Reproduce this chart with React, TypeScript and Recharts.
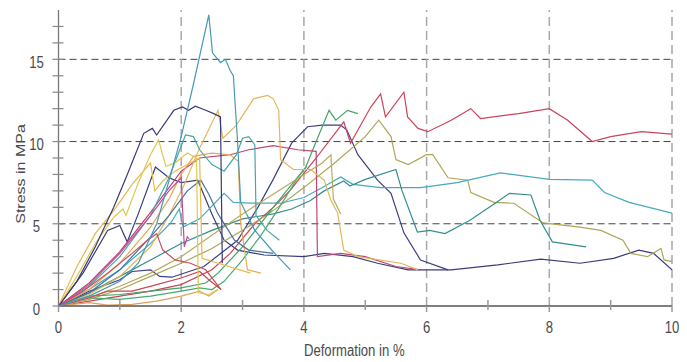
import React from 'react';
import { LineChart, Line, XAxis, YAxis, ReferenceLine } from 'recharts';

type P = [number, number];

const navyTall: P[] = [[0,0],[0.3,1.5],[0.6,3.6],[0.9,6],[1.1,7.8],[1.39,10.5],[1.53,10.8],[1.6,10.4],[1.88,11.9],[2.02,12.1],[2.12,11.9],[2.23,12.15],[2.4,11.9],[2.53,11.7],[2.64,11.5],[2.67,2.6]];
const tealTall: P[] = [[0,0],[0.5,0.6],[1,1.5],[1.3,2.6],[1.6,5],[1.8,7.6],[2,10.3],[2.2,13.5],[2.45,17.7],[2.51,15.4],[2.64,14.8],[2.72,15.0],[2.8,14.3],[2.85,14.0],[2.92,9.9],[2.97,6.3],[3.2,4.6],[3.5,3.3],[3.78,2.2]];
const goldTall: P[] = [[0,0],[0.5,0.7],[1,1.8],[1.5,3.6],[1.8,5.5],[2.04,7.3],[2.3,9.6],[2.6,11.9],[2.68,10.2],[2.9,11],[3.18,12.6],[3.41,12.8],[3.5,12.6],[3.59,11.9],[3.62,8.9],[3.83,8.3],[4.11,8.3],[4.33,7.65],[4.44,6.45],[4.55,5.65],[4.65,3.4],[4.88,3.0],[5.58,2.6],[5.86,2.2]];
const yellowA: P[] = [[0,0],[0.3,1.8],[0.6,3.8],[0.9,5.4],[1.05,5.9],[1.1,5.5],[1.3,7.5],[1.5,9.2],[1.63,10.1],[1.75,8.5],[1.9,8.7],[2.1,9.3],[2.25,9.0],[2.28,0.8],[2.45,0.7],[2.6,1.0]];
const goldB: P[] = [[0,0],[0.3,2.4],[0.6,4.4],[0.9,5.8],[1.2,7.4],[1.5,8.7],[1.57,7.0],[1.7,7.6],[1.9,8.2],[2.1,8.6],[2.3,9.0],[2.34,2.9],[2.6,2.6],[3.13,2.0]];
const navyLow: P[] = [[0,0],[0.4,2],[0.8,4.6],[1.0,4.9],[1.12,3.9],[1.3,5.6],[1.58,8.45],[1.8,7.8],[2.0,7.5],[2.27,7.65],[2.5,5.6],[2.7,4.0],[2.92,3.4],[3.35,3.1],[4,3.0],[4.33,3.2],[4.8,3.0],[5.2,2.6],[5.7,2.2],[6.4,2.2],[7.16,2.5],[7.86,2.85],[8.5,2.6],[9.05,2.9],[9.46,3.4],[9.7,3.2],[10,2.2]];
const navyPeak: P[] = [[0,0],[0.5,0.9],[1.0,1.6],[1.2,2.1],[1.5,2.2],[1.65,1.8],[1.85,1.75],[2.37,2.4],[2.92,4.0],[3.25,6.0],[3.5,7.7],[3.8,9.9],[4.06,10.9],[4.3,11],[4.6,11],[4.7,10.7],[4.88,9.2],[5.2,7.65],[5.42,6.85],[5.63,4.45],[5.9,2.8],[6.35,2.2]];
const redLong: P[] = [[0,0],[0.5,0.3],[1,0.6],[1.5,0.9],[2,1.3],[2.5,2.2],[2.8,3.2],[3.2,5],[3.5,6],[3.78,7.05],[4.2,9],[4.65,11.2],[4.76,9.9],[5.09,12.1],[5.25,12.9],[5.33,11.5],[5.63,13.0],[5.69,11.5],[5.86,10.8],[6.02,10.6],[6.4,11.3],[6.72,12.0],[6.88,11.4],[7.5,11.7],[8,12.0],[8.3,11.3],[8.7,10.0],[9.0,10.3],[9.5,10.6],[10,10.45]];
const greenLong: P[] = [[0,0],[0.5,0.6],[1,0.7],[1.5,0.9],[2,1.1],[2.4,1.4],[2.6,2.0],[3,3.6],[3.5,6],[4.03,8.45],[4.2,10],[4.41,11.9],[4.52,11.3],[4.71,11.9],[4.88,11.7]];
const oliveLong: P[] = [[0,0],[0.5,0.4],[1,1],[1.5,1.8],[2,2.6],[2.5,3.5],[3,4.6],[3.5,5.8],[4,7.2],[4.5,8.7],[5,10.3],[5.22,11.3],[5.42,10.3],[5.5,8.9],[5.7,8.6],[6.0,9.2],[6.1,9.2],[6.35,7.8],[6.67,7.65],[6.72,6.9],[7.1,6.3],[7.42,6.25],[7.9,5.05],[8.5,4.8],[8.84,4.6],[9.2,4.0],[9.33,3.2],[9.6,3.0],[9.82,3.5],[9.87,2.8],[10,2.7]];
const cyanLong: P[] = [[0,0],[0.5,1],[1,2.2],[1.5,3.8],[1.83,5.05],[1.97,5.9],[2.03,4.8],[2.3,5.3],[2.7,6.85],[2.85,6.3],[3.13,6.25],[3.62,6.25],[4.0,6.6],[4.3,7.2],[4.6,7.85],[4.8,7.4],[5.25,7.2],[5.9,7.2],[6.5,7.5],[7.2,8.1],[8.0,7.7],[8.7,7.65],[8.9,6.9],[9.3,6.3],[10,5.65]];
const tealDark: P[] = [[0,0],[0.5,0.8],[1,1.8],[1.5,2.8],[2,3.8],[2.5,4.6],[3,5.3],[3.5,5.6],[3.8,5.9],[4.1,6.4],[4.33,7.0],[4.65,7.6],[4.75,7.3],[5.0,7.7],[5.5,8.3],[5.6,7.0],[5.85,4.5],[6.05,4.6],[6.3,4.4],[6.7,5.2],[7.1,6.2],[7.35,6.85],[7.7,6.75],[7.85,5.2],[8.05,3.9],[8.6,3.6]];
const magentaRed: P[] = [[0,0],[0.5,1.4],[1,3.3],[1.5,5.7],[2,8.2],[2.3,9.0],[2.8,9.2],[3.1,9.5],[3.5,9.75],[3.9,9.5],[4.2,9.4],[4.22,3.0],[4.6,3.2],[5,3.0],[5.5,2.4],[5.9,2.2]];
const magentaShort: P[] = [[0,0],[0.5,1.3],[1,3.2],[1.5,5.5],[1.8,7.0],[2.0,7.8],[2.05,3.6],[2.1,4.2],[2.13,4.1]];
const pinkRed: P[] = [[0,0],[0.4,0.9],[0.8,2],[1.2,3.2],[1.45,4.0],[1.6,4.4],[1.7,3.4],[1.9,2.8],[2.15,2.6],[2.4,2.2],[2.65,1.0]];
const redLow: P[] = [[0,0],[0.5,0.5],[0.8,0.9],[1.2,0.9],[1.6,1.3],[2.0,1.7],[2.3,2.1],[2.45,1.6],[2.65,1.0]];
const orangeLow: P[] = [[0,0],[0.5,0.2],[0.8,0.05],[1.2,0.1],[1.6,0.3],[2,0.6],[2.3,0.9],[2.45,0.6],[2.6,1.0]];
const greenLow: P[] = [[0,0],[0.5,0.5],[1,0.4],[1.5,0.6],[2,0.9],[2.3,1.1],[2.5,1.0],[2.7,1.5],[3.0,2.8],[3.3,4.3],[3.6,6],[3.9,7.8],[4.05,8.5]];
const tealMed: P[] = [[0,0],[0.5,1.2],[1,3],[1.5,5.5],[1.8,7.8],[2.07,10.4],[2.2,10.3],[2.3,9.5],[2.5,8.6],[2.7,8.2],[2.9,9.2],[3.0,10.2],[3.1,10.3],[3.2,9.8],[3.22,5.5],[3.4,4.6],[3.6,4.0]];
const blueMid: P[] = [[0,0],[0.5,0.8],[1,2.2],[1.5,4.2],[1.8,5.5],[2.1,7.0],[2.32,7.65],[2.45,6.8],[2.6,5.6],[2.87,4.0],[3.1,3.4],[3.5,3.2]];
const orangeMid: P[] = [[0,0],[0.5,1],[1,2.6],[1.5,4.8],[1.8,6.5],[2.0,8.0],[2.2,9.1],[2.5,9.3],[2.8,9.2],[2.93,8.8],[2.97,5.0],[3.08,2.2],[3.3,2.0]];
const oliveShort: P[] = [[0,0],[0.5,0.5],[1,1.2],[1.5,2],[2,3],[2.5,4.3],[3,5.6],[3.5,6.8],[4,8],[4.3,8.7],[4.44,9.2],[4.48,6.5],[4.6,5.6]];

const seriesList: { name: string; pts: P[]; color: string }[] = [
  { name: 'navyLow', pts: navyLow, color: '#3a3c7c' },
  { name: 'navyPeak', pts: navyPeak, color: '#3d3f80' },
  { name: 'redLong', pts: redLong, color: '#cc4458' },
  { name: 'oliveLong', pts: oliveLong, color: '#aea656' },
  { name: 'cyanLong', pts: cyanLong, color: '#45aabe' },
  { name: 'tealDark', pts: tealDark, color: '#358e8e' },
  { name: 'greenLong', pts: greenLong, color: '#48a266' },
  { name: 'greenLow', pts: greenLow, color: '#4aaa6c' },
  { name: 'magentaRed', pts: magentaRed, color: '#bc4676' },
  { name: 'oliveShort', pts: oliveShort, color: '#b8ab5a' },
  { name: 'goldTall', pts: goldTall, color: '#e4b65a' },
  { name: 'orangeMid', pts: orangeMid, color: '#e8a856' },
  { name: 'tealMed', pts: tealMed, color: '#44a8a8' },
  { name: 'blueMid', pts: blueMid, color: '#4672a0' },
  { name: 'pinkRed', pts: pinkRed, color: '#cc4c5a' },
  { name: 'redLow', pts: redLow, color: '#cc4654' },
  { name: 'orangeLow', pts: orangeLow, color: '#dca060' },
  { name: 'magentaShort', pts: magentaShort, color: '#c44a96' },
  { name: 'goldB', pts: goldB, color: '#e9b64e' },
  { name: 'yellowA', pts: yellowA, color: '#dec850' },
  { name: 'navyTall', pts: navyTall, color: '#383a76' },
  { name: 'tealTall', pts: tealTall, color: '#4898b8' },
];

const xTicks = [0, 1, 2, 3, 4, 5, 6, 7, 8, 9, 10];
const yTicks = [0, 1, 2, 3, 4, 5, 6, 7, 8, 9, 10, 11, 12, 13, 14, 15, 16, 17];
const xGrid = [2, 4, 6, 8, 10];
const yGrid = [5, 10, 15];

const font = "'Liberation Sans', Arial, sans-serif";
const textColor = '#4a4a4a';
const squeeze = 0.82;

const NarrowText = ({ x, y, children, size = 16 }: { x: number; y: number; children: React.ReactNode; size?: number }) => (
  <text
    transform={`translate(${x}, ${y}) scale(${squeeze}, 1)`}
    x={0}
    y={0}
    textAnchor="middle"
    fontSize={size}
    fontFamily={font}
    fill={textColor}
  >
    {children}
  </text>
);

const XTick = (props: any) => {
  const { x, y, payload } = props;
  const v = payload.value as number;
  const even = v % 2 === 0;
  return (
    <g>
      {even ? (
        <line x1={x} x2={x} y1={y} y2={y + 6} stroke="#999" strokeWidth={1.5} />
      ) : (
        <line x1={x} x2={x} y1={y - 6} y2={y + 4} stroke="#999" strokeWidth={1.5} />
      )}
      {even && <NarrowText x={x} y={y + 27}>{v}</NarrowText>}
    </g>
  );
};

const YTick = (props: any) => {
  const { x, y, payload } = props;
  const v = payload.value as number;
  return (
    <g>
      <line x1={x - 6} x2={x + 5} y1={y} y2={y} stroke="#888" strokeWidth={1.2} />
      {v % 5 === 0 && <NarrowText x={x - 22} y={y + 8.5}>{v}</NarrowText>}
    </g>
  );
};

const XLabel = (props: any) => {
  const vb = props.viewBox || { x: 51, y: 298, width: 613, height: 40 };
  return <NarrowText x={vb.x + vb.width / 2 - 11} y={vb.y + 49.7}>Deformation in %</NarrowText>;
};

const YLabel = (props: any) => {
  const vb = props.viewBox || { x: 0, y: 2, width: 50, height: 296 };
  const cx = 17;
  const cy = vb.y + vb.height / 2 + 16;
  return (
    <text
      transform={`translate(${cx}, ${cy}) rotate(-90) scale(1, ${squeeze})`}
      x={0}
      y={0}
      textAnchor="middle"
      fontSize={16}
      fontFamily={font}
      fill={textColor}
    >
      Stress in MPa
    </text>
  );
};

export default function App() {
  return (
    <LineChart width={679} height={354} margin={{ top: 2, right: 15, bottom: 16, left: 0 }}>
      {yGrid.map((v) => (
        <ReferenceLine key={'hy' + v} y={v} stroke="#444" strokeWidth={1} strokeDasharray="7 4" />
      ))}
      {xGrid.map((v) => (
        <ReferenceLine key={'vx' + v} x={v} stroke="#a8a8a8" strokeWidth={1.5} strokeDasharray="9 5" />
      ))}
      <XAxis
        type="number"
        dataKey="x"
        domain={[0, 10]}
        ticks={xTicks}
        interval={0}
        height={40}
        tickSize={0}
        tickMargin={0}
        tick={<XTick />}
        axisLine={{ stroke: '#555', strokeWidth: 1.3 }}
        tickLine={false}
        label={<XLabel />}
        allowDataOverflow
      />
      <YAxis
        type="number"
        dataKey="y"
        domain={[0, 18]}
        ticks={yTicks}
        interval={0}
        width={50.5}
        tickSize={0}
        tickMargin={0}
        tick={<YTick />}
        axisLine={{ stroke: '#777', strokeWidth: 1.3 }}
        tickLine={false}
        label={<YLabel />}
        allowDataOverflow
      />
      {seriesList.map((s) => (
        <Line
          key={s.name}
          name={s.name}
          data={s.pts.map(([x, y]) => ({ x, y }))}
          dataKey="y"
          type="linear"
          stroke={s.color}
          strokeWidth={1.2}
          dot={false}
          activeDot={false}
          isAnimationActive={false}
        />
      ))}
    </LineChart>
  );
}
